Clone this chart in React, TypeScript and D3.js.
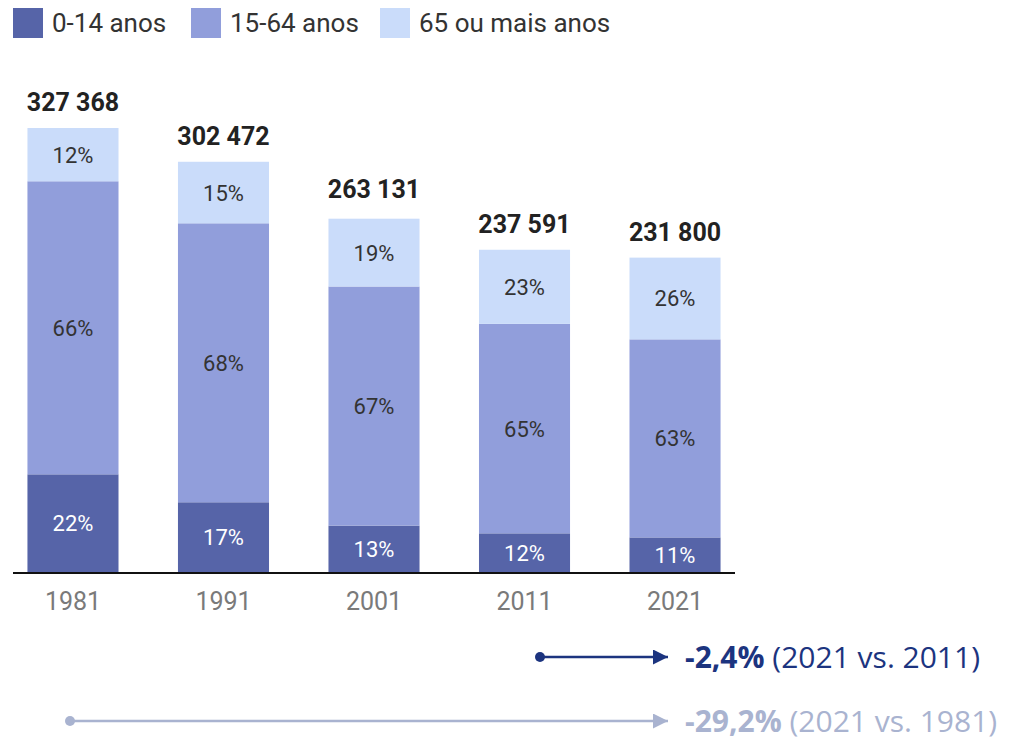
import React from "react";
import * as d3 from "d3";

const years = ["1981", "1991", "2001", "2011", "2021"];
const totals = [327368, 302472, 263131, 237591, 231800];
const totalLabels = ["327 368", "302 472", "263 131", "237 591", "231 800"];
const share0to14 = [22, 17, 13, 12, 11];
const share15to64 = [66, 68, 67, 65, 63];
const share65plus = [12, 15, 19, 23, 26];
const seriesNames = ["0-14 anos", "15-64 anos", "65 ou mais anos"];
const seriesColors = ["#5664a8", "#919edb", "#cadcfa"];
const labelColors = ["#ffffff", "#333333", "#333333"];

const annotations = [
  { bold: "-2,4%", rest: " (2021 vs. 2011)", from: "2011", color: "#1c347f" },
  { bold: "-29,2%", rest: " (2021 vs. 1981)", from: "1981", color: "#a9b3d0" },
];

export default function App() {
  const W = 1012;
  const H = 740;
  const x = d3
    .scaleBand<string>()
    .domain(years)
    .range([13, 735])
    .paddingInner(0.395)
    .paddingOuter(0.096);
  const y = d3.scaleLinear().domain([0, totals[0]]).range([572, 128]);

  const shares = [share0to14, share15to64, share65plus];
  const rows = years.map((yr, i) => {
    const r: any = { year: yr, total: totals[i] };
    seriesNames.forEach((s, k) => (r[s] = (shares[k][i] / 100) * totals[i]));
    return r;
  });
  const stack = d3.stack<any>().keys(seriesNames)(rows);

  const legendX = [13, 191, 380];
  const font = "Roboto, 'Noto Sans', sans-serif";
  const annFont = "'Open Sans', 'Noto Sans', sans-serif";
  const annY = [657, 721];
  const arrowTip = 668;

  return (
    <svg width={W} height={H} style={{ position: "absolute", left: 0, top: 0, background: "#fff" }}>
      <defs>
        {annotations.map((a, i) => (
          <marker
            key={i}
            id={`arrow${i}`}
            viewBox="0 0 10 10"
            refX={10}
            refY={5}
            markerWidth={15}
            markerHeight={15}
            markerUnits="userSpaceOnUse"
            orient="auto"
          >
            <path d="M0,0 L10,5 L0,10 Z" fill={a.color} />
          </marker>
        ))}
      </defs>
      {/* legend */}
      {seriesNames.map((s, k) => (
        <g key={s}>
          <rect x={legendX[k]} y={8} width={30} height={30} fill={seriesColors[k]} />
          <text x={legendX[k] + 39} y={32} fontFamily={font} fontSize={26} fill="#333">
            {s}
          </text>
        </g>
      ))}
      {/* bars */}
      {stack.map((layer, k) => (
        <g key={layer.key}>
          {layer.map((d, i) => {
            const bx = x(years[i])!;
            const y0 = y(d[0]);
            const y1 = y(d[1]);
            return (
              <g key={i}>
                <rect x={bx} y={y1} width={x.bandwidth()} height={y0 - y1} fill={seriesColors[k]} />
                <text
                  x={bx + x.bandwidth() / 2}
                  y={(y0 + y1) / 2 + 8}
                  textAnchor="middle"
                  fontFamily={font}
                  fontSize={22}
                  fill={labelColors[k]}
                >
                  {shares[k][i]}%
                </text>
              </g>
            );
          })}
        </g>
      ))}
      {/* totals */}
      {years.map((yr, i) => (
        <text
          key={yr}
          x={x(yr)! + x.bandwidth() / 2}
          y={y(totals[i]) - 17}
          textAnchor="middle"
          fontFamily={font}
          fontWeight="bold"
          fontSize={25}
          fill="#222"
        >
          {totalLabels[i]}
        </text>
      ))}
      {/* axis */}
      <line x1={13} x2={735} y1={y(0) + 1} y2={y(0) + 1} stroke="#111" strokeWidth={2} />
      {years.map((yr) => (
        <text
          key={yr}
          x={x(yr)! + x.bandwidth() / 2}
          y={610}
          textAnchor="middle"
          fontFamily={font}
          fontSize={25}
          fill="#7a7a7a"
        >
          {yr}
        </text>
      ))}
      {/* annotations */}
      {annotations.map((a, i) => {
        const sx = i === 0 ? 540 : 70;
        return (
          <g key={i}>
            <circle cx={sx} cy={annY[i]} r={5} fill={a.color} />
            <line
              x1={sx}
              x2={arrowTip}
              y1={annY[i]}
              y2={annY[i]}
              stroke={a.color}
              strokeWidth={2.5}
              markerEnd={`url(#arrow${i})`}
            />
            <text x={685} y={annY[i] + 11} fontFamily={annFont} fontSize={30} fill={a.color}>
              <tspan fontWeight="bold">{a.bold}</tspan>
              <tspan>{a.rest}</tspan>
            </text>
          </g>
        );
      })}
    </svg>
  );
}
